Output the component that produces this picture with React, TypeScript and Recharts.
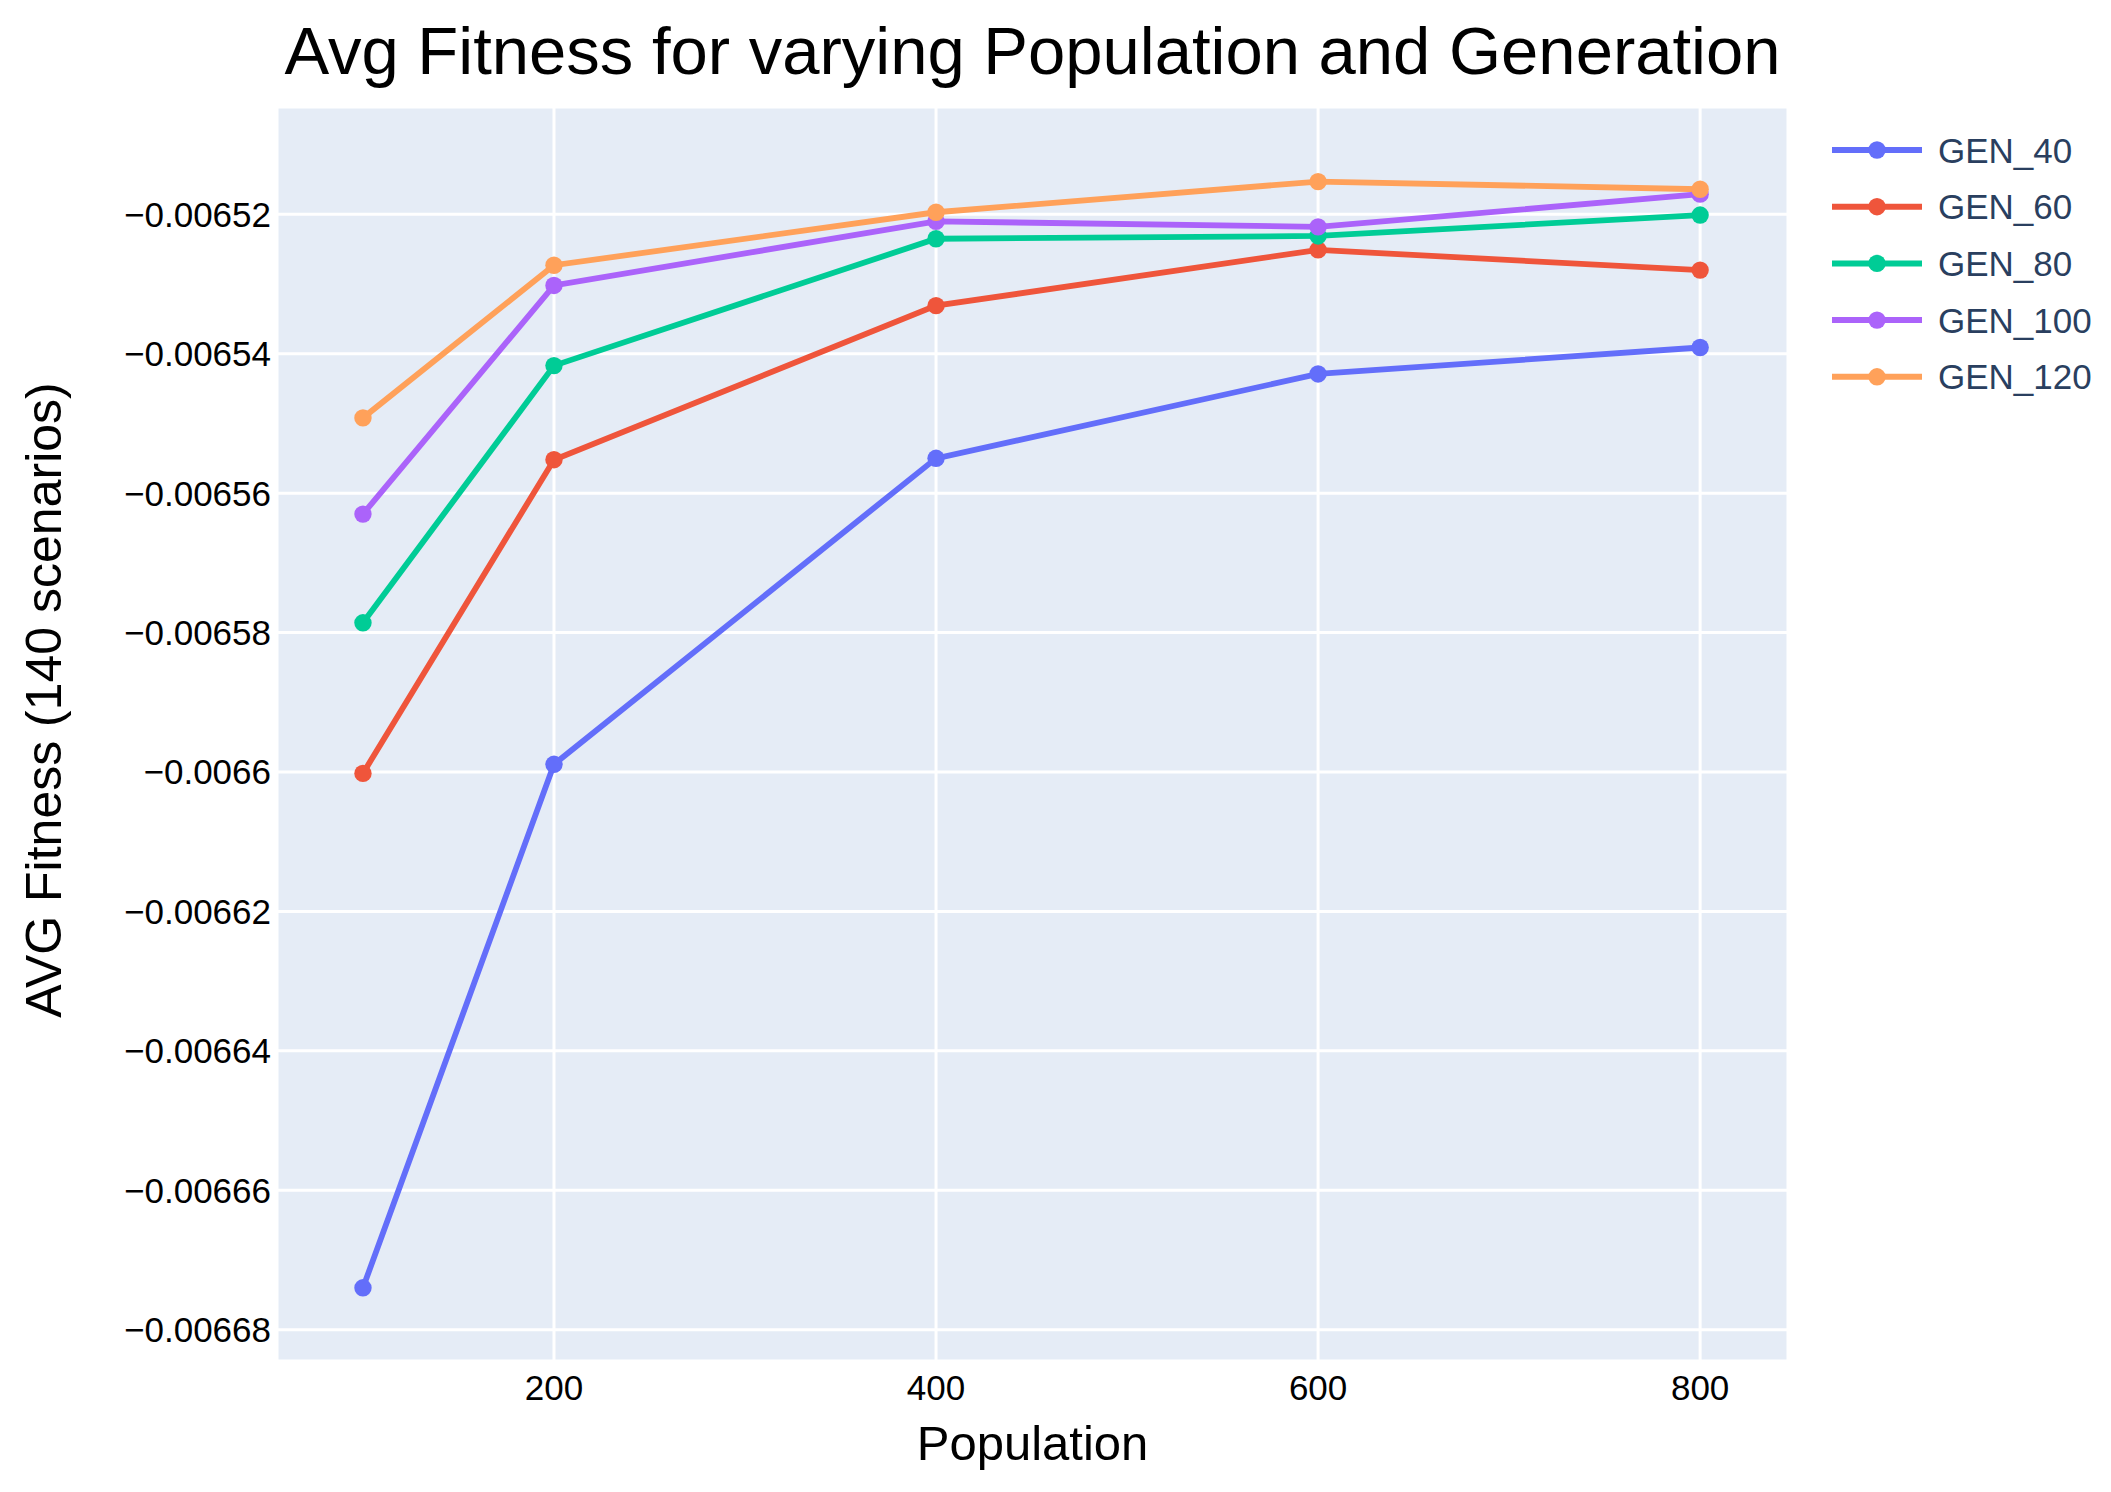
import React from "react";
import {
  CartesianGrid,
  Line,
  LineChart,
  XAxis,
  YAxis,
} from "recharts";

const populations = [100, 200, 400, 600, 800];

const gen40 = [-0.006674, -0.0065989, -0.006555, -0.0065429, -0.0065391];
const gen60 = [-0.0066002, -0.0065552, -0.0065331, -0.0065251, -0.006528];
const gen80 = [-0.0065786, -0.0065417, -0.0065235, -0.0065231, -0.0065201];
const gen100 = [-0.006563, -0.0065302, -0.006521, -0.0065218, -0.0065171];
const gen120 = [-0.0065492, -0.0065273, -0.0065197, -0.0065153, -0.0065164];

const seriesNames = ["GEN_40", "GEN_60", "GEN_80", "GEN_100", "GEN_120"];
const seriesValues = [gen40, gen60, gen80, gen100, gen120];
const seriesColors = ["#636efa", "#ef553b", "#00cc96", "#ab63fa", "#ffa15a"];

const xTicks = [200, 400, 600, 800];
const yTicks = [
  -0.00668, -0.00666, -0.00664, -0.00662, -0.0066, -0.00658, -0.00656,
  -0.00654, -0.00652,
];

const W = 2111;
const H = 1492;
const FONT = "'Liberation Sans', Arial, sans-serif";

// plot area edges (px)
const PLOT_LEFT = 277;
const PLOT_RIGHT = 1788;
const PLOT_TOP = 107;
const PLOT_BOTTOM = 1361;

const chartData = populations.map((p, i) => {
  const row: Record<string, number> = { population: p };
  seriesNames.forEach((name, s) => {
    row[name] = seriesValues[s][i];
  });
  return row;
});

const fmtY = (v: number) => {
  const s = String(Number(v.toPrecision(6)));
  return s.replace("-", "\u2212");
};

export default function App() {
  return (
    <div
      style={{
        position: "relative",
        width: W,
        height: H,
        background: "#fff",
        fontFamily: FONT,
      }}
    >
      <style>{"body{margin:0}"}</style>
      <LineChart
        width={W}
        height={H}
        data={chartData}
        margin={{ top: PLOT_TOP, right: W - PLOT_RIGHT, bottom: 0, left: 0 }}
      >
        <CartesianGrid stroke="#ffffff" strokeWidth={3} fill="#e5ecf6" />
        <XAxis
          dataKey="population"
          type="number"
          domain={[55, 846]}
          ticks={xTicks}
          allowDataOverflow
          height={H - PLOT_BOTTOM}
          axisLine={false}
          tickLine={false}
          tickSize={0}
          tickMargin={14}
          tick={{ fontSize: 35, fill: "#000", fontFamily: FONT }}
        />
        <YAxis
          type="number"
          domain={[-0.0066845, -0.0065046]}
          ticks={yTicks}
          allowDataOverflow
          width={PLOT_LEFT}
          axisLine={false}
          tickLine={false}
          tickSize={0}
          tickMargin={6}
          tickFormatter={fmtY}
          tick={{ fontSize: 35, fill: "#000", fontFamily: FONT }}
        />
        {seriesNames.map((name, s) => (
          <Line
            key={name}
            type="linear"
            dataKey={name}
            stroke={seriesColors[s]}
            strokeWidth={5.8}
            dot={{ r: 8.7, fill: seriesColors[s], stroke: "none" }}
            activeDot={false}
            isAnimationActive={false}
          />
        ))}
      </LineChart>

      <div
        style={{
          position: "absolute",
          left: (PLOT_LEFT + PLOT_RIGHT) / 2,
          top: 50,
          transform: "translate(-50%, -50%)",
          fontSize: 67,
          whiteSpace: "nowrap",
          color: "#000",
        }}
      >
        Avg Fitness for varying Population and Generation
      </div>

      <div
        style={{
          position: "absolute",
          left: (PLOT_LEFT + PLOT_RIGHT) / 2,
          top: 1443,
          transform: "translate(-50%, -50%)",
          fontSize: 49,
          whiteSpace: "nowrap",
          color: "#000",
        }}
      >
        Population
      </div>

      <div
        style={{
          position: "absolute",
          left: 44,
          top: 700,
          transform: "translate(-50%, -50%) rotate(-90deg)",
          fontSize: 50,
          whiteSpace: "nowrap",
          color: "#000",
        }}
      >
        AVG Fitness (140 scenarios)
      </div>

      <svg
        width={W - 1800}
        height={300}
        style={{ position: "absolute", left: 1800, top: 100 }}
      >
        {seriesNames.map((name, s) => {
          const cy = 50 + s * 56.7;
          return (
            <g key={name}>
              <line
                x1={32}
                x2={122}
                y1={cy}
                y2={cy}
                stroke={seriesColors[s]}
                strokeWidth={6}
              />
              <circle cx={77} cy={cy} r={8.7} fill={seriesColors[s]} />
              <text
                x={138}
                y={cy}
                dominantBaseline="central"
                fontSize={35}
                fill="#2a3f5f"
                fontFamily={FONT}
              >
                {name}
              </text>
            </g>
          );
        })}
      </svg>
    </div>
  );
}
